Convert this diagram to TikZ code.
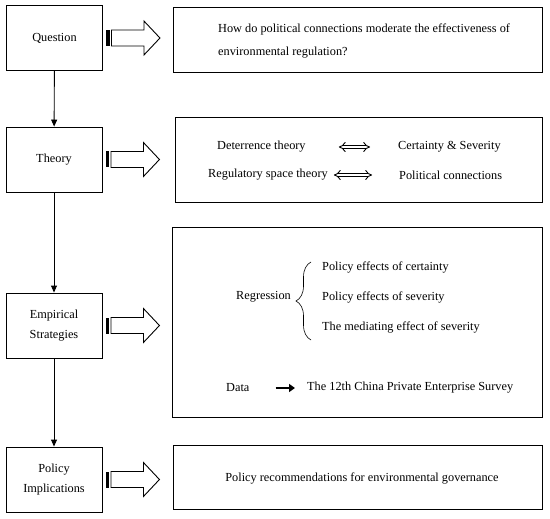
\documentclass[tikz,border=0pt]{standalone}
\usepackage{fontspec}
\setmainfont{Liberation Serif}
\usepackage{tikz}
\usetikzlibrary{positioning, arrows.meta, calc, decorations.pathreplacing}
\def\textsize{\fontsize{12.3pt}{20pt}\selectfont}
\tikzstyle{stage} = [draw, line width=0.9pt, minimum width=96pt, minimum height=65pt, inner sep=0, align=center, font=\textsize]
\tikzstyle{panel} = [draw, line width=0.9pt, inner sep=0]
\tikzstyle{txt} = [inner sep=0, anchor=west, font=\fontsize{12.3pt}{23pt}\selectfont]
\tikzstyle{arrow} = [-{Triangle[length=7pt, width=6pt]}, line width=0.9pt]
\tikzstyle{equiv} = [{Implies}-{Implies}, double, double distance=2.6pt, line width=0.9pt]
\tikzstyle{dataarrow} = [-{Triangle[length=6pt, width=8pt]}, line width=2.6pt]
\newcommand{\tikzpanelnode}[2]{\node[panel, minimum width=#1, minimum height=#2]}
\newcommand{\hollowarrow}[1]{
  \fill ($(#1.east)+(3.5,-8)$) rectangle ($(#1.east)+(7,8)$);
  \draw[line width=0.9pt] ($(#1.east)+(8.5,-8)$) -- ++(32.5,0) -- ++(0,-9) -- ++(16,17)
    -- ++(-16,17) -- ++(0,-9) -- ++(-32.5,0) -- cycle;
}

\begin{document}
\begin{tikzpicture}[x=1pt, y=-1pt]
    \useasboundingbox (0,0) rectangle (550,519);

    % stages
    \node[stage] at (54.5, 38)    (question)  {Question};
    \node[stage] at (54, 159.5)   (theory)    {Theory};
    \node[stage] at (54, 325.5)   (empirical) {Empirical\\Strategies};
    \node[stage] at (54, 479.5)   (policy)    {Policy\\Implications};

    % panels
    \tikzpanelnode{369pt}{65pt}  at (357.5, 39.5) (question-panel)  {};
    \tikzpanelnode{367pt}{85pt}  at (358.5, 159.5) (theory-panel)   {};
    \tikzpanelnode{370pt}{190pt} at (357, 322)    (empirical-panel) {};
    \tikzpanelnode{369pt}{64pt}  at (357.5, 477)  (policy-panel)    {};

    % question
    \node[txt, align=left] at (218, 40.5) (ask) {How do political connections moderate the effectiveness of\\environmental regulation?};

    % theory
    \node[txt] at (217, 147) (deterrence) {Deterrence theory};
    \node[txt] at (398, 147) (certainty)  {Certainty \& Severity};
    \node[txt] at (208, 175) (space)      {Regulatory space theory};
    \node[txt] at (399, 175) (connection) {Political connections};

    % empirical strategies
    \node[txt] at (236, 297) (regression) {Regression};
    \node[txt] at (322, 267) (certain)    {Policy effects of certainty};
    \node[txt] at (322, 297) (severe)     {Policy effects of severity};
    \node[txt] at (322, 327) (mediate)    {The mediating effect of severity};
    \node[txt] at (226, 388) (data)       {Data};
    \node[txt] at (307, 388) (survey)     {The 12th China Private Enterprise Survey};

    % implications
    \node[txt, anchor=center] at (362, 478) (advice) {Policy recommendations for environmental governance};

    % arrows
    \draw[arrow] (question) -- (theory);
    \draw[arrow] (theory)   -- (empirical);
    \draw[arrow] (empirical) -- (policy);
    \hollowarrow{question}
    \hollowarrow{theory}
    \hollowarrow{empirical}
    \hollowarrow{policy}
    \draw[equiv, shorten <=33pt, shorten >=28pt] (deterrence) -- (certainty);
    \draw[equiv, shorten <=6pt, shorten >=27pt]  (space)      -- (connection);
    \draw[dataarrow, shorten <=26pt, shorten >=12pt] (data) -- (survey);
    \draw[decorate, decoration={brace, amplitude=15pt}, line width=0.6pt] (311, 340) -- (311, 262);
\end{tikzpicture}
\end{document}
